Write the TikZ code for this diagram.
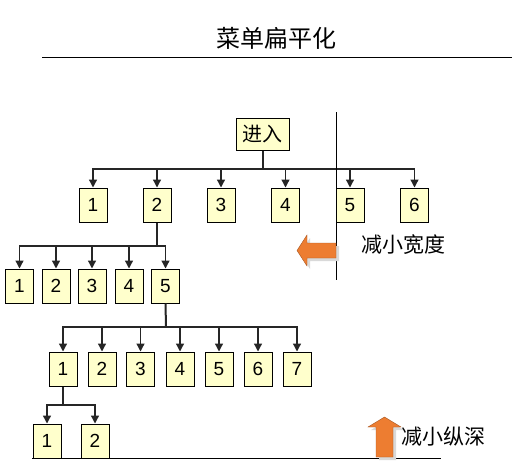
\documentclass[tikz,border=0pt]{standalone}
\usepackage{fontspec}
\setmainfont{Liberation Sans}
\newfontfamily\cjk{Noto Sans CJK SC}
\usetikzlibrary{arrows.meta}
\definecolor{boxfill}{HTML}{FFFFCC}
\definecolor{orng}{HTML}{ED7D31}
\tikzset{
  bx/.style={draw=black, line width=1pt, fill=boxfill, minimum width=28pt, minimum height=34pt, inner sep=0pt, font=\fontsize{19}{19}\selectfont},
  lnk/.style={line width=1.3pt, draw=black!85},
  stem/.style={line width=2pt, draw=black!85},
  arr/.style={lnk, -{Triangle[width=8pt,length=8pt]}},
  lbl/.style={inner sep=0pt, font=\cjk\fontsize{21}{21}\selectfont},
}
\begin{document}
\begin{tikzpicture}[x=1pt,y=-1pt]
\useasboundingbox (0,0) rectangle (519,466);
% title
\node[lbl, font=\cjk\fontsize{24}{24}\selectfont] (title) at (276,38) {菜单扁平化};
\draw[line width=1pt] (42,57) -- (512,57);
% root
\node[bx, minimum width=53pt, minimum height=32pt, font=\cjk\fontsize{20}{20}\selectfont] (root) at (262.5,134) {进入};
% level 1
\foreach \i/\x in {1/93,2/157,3/221,4/285.5,5/350,6/414.5}
  \node[bx] (a\i) at (\x,205) {\i};
% level 2
\foreach \i/\x in {1/19.5,2/56,3/92,4/129,5/165.5}
  \node[bx] (b\i) at (\x,286) {\i};
% level 3
\foreach \i/\x in {1/63,2/102,3/140.5,4/180,5/219,6/258,7/297}
  \node[bx] (c\i) at (\x,369) {\i};
% level 4
\foreach \i/\x in {1/47,2/95}
  \node[bx] (d\i) at (\x,441) {\i};
% bus coordinates
\coordinate (ba) at (262.5,169);
\coordinate (bb) at (157,246);
\coordinate (bc) at (166,327);
\coordinate (bd) at (63,405);
% connectors
\draw[stem] (root.south) -- (ba);
\foreach \i in {1,...,6} \draw[arr] (ba) -| (a\i.north);
\draw[stem] (a2.south) -- (bb);
\foreach \i in {1,...,5} \draw[arr] (bb) -| (b\i.north);
\draw[stem] (b5.south) -- (bc);
\foreach \i in {1,...,7} \draw[arr] (bc) -| (c\i.north);
\draw[lnk] (c1.south) -- (bd);
\foreach \i in {1,2} \draw[arr] (bd) -| (d\i.north);
% vertical divider
\coordinate (vt) at (336,112);
\coordinate (vb) at (336,280);
\draw[line width=1pt] (vt) -- (vb);
% bottom line
\coordinate (hl) at (32,458);
\coordinate (hr) at (441,458);
\draw[line width=1pt] (hl) -- (hr);
% left arrow (reduce width)
\fill[black!15] (300,253.5) -- (310,238) -- (310,246) -- (339,246) -- (339,261) -- (310,261) -- (310,269) -- cycle;
\fill[orng] (297,250.5) -- (307,235) -- (307,243) -- (336,243) -- (336,258) -- (307,258) -- (307,266) -- cycle;
\draw[orng!70!black, line width=0.4pt] (297,250.5) -- (307,235) -- (307,243) -- (336,243) -- (336,258) -- (307,258) -- (307,266) -- cycle;
\node[lbl] (w) at (403,245) {减小宽度};
% up arrow (reduce depth)
\fill[black!15] (387.5,420) -- (404,430) -- (396,430) -- (396,460) -- (379,460) -- (379,430) -- (371,430) -- cycle;
\fill[orng] (384.5,417) -- (401,427) -- (393,427) -- (393,457) -- (376,457) -- (376,427) -- (368,427) -- cycle;
\draw[orng!70!black, line width=0.4pt] (384.5,417) -- (401,427) -- (393,427) -- (393,457) -- (376,457) -- (376,427) -- (368,427) -- cycle;
\node[lbl] (dp) at (443,437) {减小纵深};
\end{tikzpicture}
\end{document}
